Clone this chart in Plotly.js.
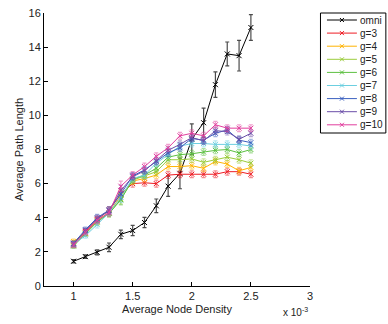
<!DOCTYPE html>
<html><head><meta charset="utf-8">
<script src="https://cdn.plot.ly/plotly-3.0.1.min.js"></script>
<style>html,body{margin:0;padding:0;background:#fff}#chart{width:388px;height:324px}</style>
</head><body><div id="chart"></div>
<script>
// Average node density (x 10^-3)
const density = [1.0,1.1,1.2,1.3,1.4,1.5,1.6,1.7,1.8,1.9,2.0,2.1,2.2,2.3,2.4,2.5];
const seriesNames = ["omni","g=3","g=4","g=5","g=6","g=7","g=8","g=9","g=10"];
const omni = [1.45,1.72,1.97,2.27,3.03,3.25,3.72,4.7,5.85,6.6,8.6,9.57,11.8,13.6,13.5,15.15];
const omniErr = [0.1,0.1,0.15,0.25,0.25,0.3,0.3,0.4,0.6,0.9,0.9,0.85,0.75,0.7,0.9,0.75];
const g3  = [2.5,3.2,3.9,4.45,5.4,6.0,6.05,6.0,6.5,6.55,6.55,6.55,6.55,6.7,6.7,6.55];
const g4  = [2.6,3.1,3.85,4.3,5.3,6.15,6.3,6.5,7.0,7.0,7.05,6.9,7.3,7.15,6.75,6.95];
const g5  = [2.4,3.1,3.8,4.25,5.1,6.2,6.45,6.7,7.4,7.4,7.45,7.25,7.4,7.55,7.4,7.2];
const g6  = [2.35,3.05,3.75,4.25,5.05,6.25,6.5,6.9,7.55,7.7,7.75,7.85,7.95,8.0,7.8,8.0];
const g7  = [2.45,2.95,3.6,4.3,5.2,6.3,6.5,7.2,7.7,8.2,8.35,8.35,8.3,8.3,8.3,8.2];
const g8  = [2.5,3.3,4.0,4.45,5.4,6.45,6.8,7.3,7.8,8.1,8.65,8.55,8.95,9.15,8.55,8.4];
const g9  = [2.45,3.25,3.95,4.4,5.6,6.4,6.75,7.35,7.95,8.3,8.7,8.5,9.1,9.05,8.6,8.95];
const g10 = [2.4,3.15,3.85,4.3,5.85,6.5,7.0,7.6,8.1,8.8,8.95,8.8,9.45,9.25,9.25,9.25];
const gErr = [0.15,0.15,0.2,0.2,0.3,0.2,0.2,0.2,0.2,0.2,0.2,0.2,0.2,0.2,0.2,0.2];
const xTicks = [1,1.5,2,2.5,3];
const yTicks = [0,2,4,6,8,10,12,14,16];

const values = [omni,g3,g4,g5,g6,g7,g8,g9,g10];
const errs = [omniErr,gErr,gErr,gErr,gErr,gErr,gErr,gErr,gErr];
const colors = ["#000000","#ee1c24","#ffb300","#9bcc3c","#5cc040","#6ccfe0","#3a5fbf","#6b4ea8","#e23f9e"];
const errColors = ["rgba(0,0,0,0.7)","rgba(238,28,36,0.5)","rgba(255,179,0,0.5)","rgba(155,204,60,0.5)","rgba(92,192,64,0.5)","rgba(108,207,224,0.5)","rgba(58,95,191,0.5)","rgba(107,78,168,0.5)","rgba(226,63,158,0.5)"];

const traces = seriesNames.map((n,i)=>({
  type:'scatter', mode:'lines+markers', name:n, x:density, y:values[i],
  line:{color:colors[i], width:1},
  marker:{symbol:'x-thin-open', size:5, color:colors[i], line:{color:colors[i], width:1}},
  error_y:{type:'data', array:errs[i], visible:true, color:errColors[i], thickness:1.2, width:2}
}));

const W = 388, H = 324, mL = 43.5, mR = 78, mT = 13, mB = 38;
const pw = W - mL - mR, ph = H - mT - mB;
const px = v => (v - mL) / pw;          // pixel -> paper x
const py = v => (H - mB - v) / ph;      // pixel -> paper y

const fontFam = 'Liberation Sans, Arial, sans-serif';
const font = {family:fontFam, size:11, color:'#222'};

// custom compact legend (like MATLAB)
const shapes = [{type:'rect', xref:'paper', yref:'paper', x0:px(320.5), x1:px(386), y0:py(13), y1:py(133),
  line:{color:'#000', width:1}, fillcolor:'rgba(0,0,0,0)', layer:'below'}];
const annotations = [];
seriesNames.forEach((n,i)=>{
  const yc = 20 + i*13.1;
  shapes.push({type:'line', xref:'paper', yref:'paper', x0:px(327), x1:px(357), y0:py(yc), y1:py(yc),
    line:{color:colors[i], width:1}, layer:'above'});
  shapes.push({type:'line', xref:'paper', yref:'paper', x0:px(340), x1:px(344), y0:py(yc-2), y1:py(yc+2),
    line:{color:colors[i], width:1}, layer:'above'});
  shapes.push({type:'line', xref:'paper', yref:'paper', x0:px(340), x1:px(344), y0:py(yc+2), y1:py(yc-2),
    line:{color:colors[i], width:1}, layer:'above'});
  annotations.push({xref:'paper', yref:'paper', x:px(358.5), y:py(yc), xanchor:'left', yanchor:'middle',
    text:n, showarrow:false, font:{family:fontFam, size:10, color:'#222'}});
});
annotations.push({xref:'paper', yref:'paper', x:px(295), y:py(312), xanchor:'center', yanchor:'middle',
  text:'x 10<sup>-3</sup>', showarrow:false, font:{family:fontFam, size:10, color:'#222'}});

const layout = {
  width:W, height:H,
  margin:{l:mL, r:mR, t:mT, b:mB},
  paper_bgcolor:'#fff', plot_bgcolor:'#fff',
  font:font,
  showlegend:false,
  xaxis:{range:[0.75,3], tickvals:xTicks, ticktext:xTicks.map(String), ticks:'inside', ticklen:4,
    showline:true, linecolor:'#000', linewidth:1, showgrid:false, zeroline:false, mirror:false,
    tickcolor:'#000', tickfont:font,
    title:{text:'Average Node Density', font:font, standoff:4}},
  yaxis:{range:[0,16], tickvals:yTicks, ticks:'inside', ticklen:4,
    showline:true, linecolor:'#000', linewidth:1, showgrid:false, zeroline:false, mirror:false,
    tickcolor:'#000', tickfont:font,
    title:{text:'Average Path Length', font:font, standoff:2}},
  shapes:shapes,
  annotations:annotations
};
Plotly.newPlot('chart', traces, layout, {displayModeBar:false, staticPlot:true});
</script></body></html>
